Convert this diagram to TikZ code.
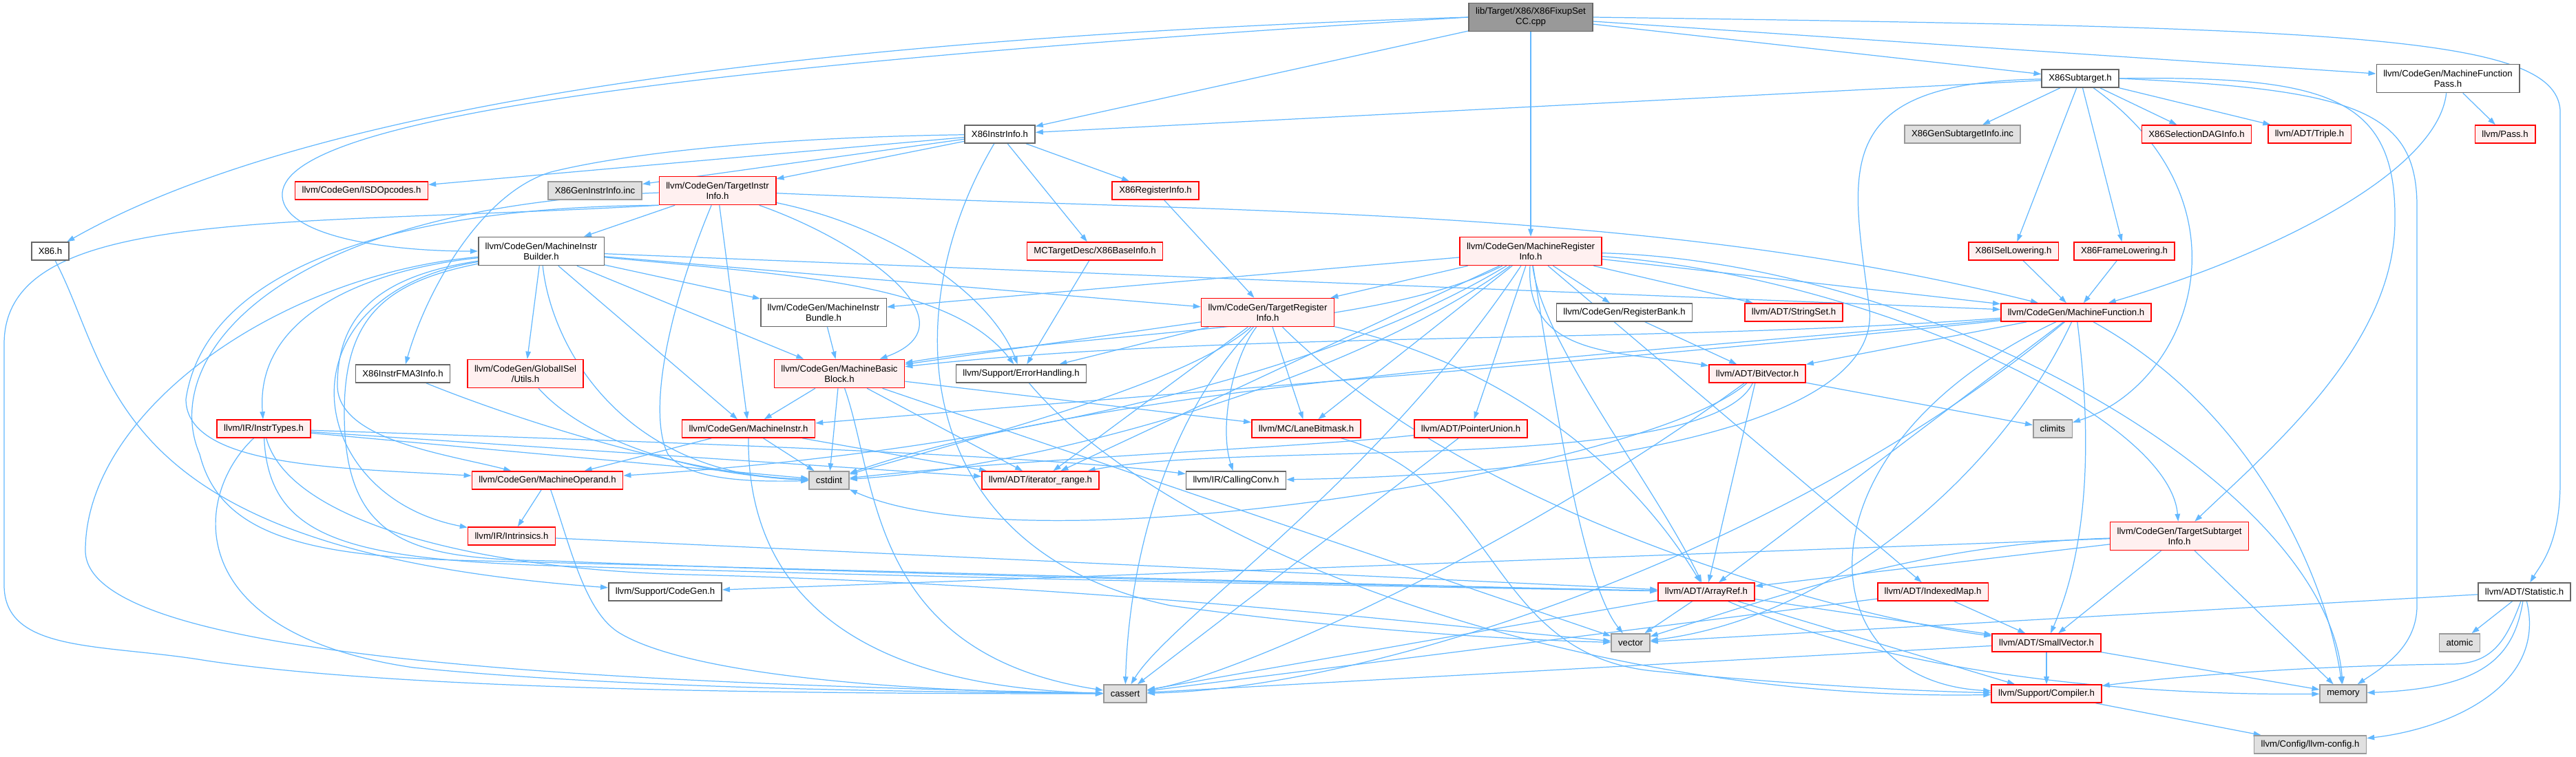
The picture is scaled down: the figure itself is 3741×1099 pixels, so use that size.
\documentclass[tikz,border=0pt]{standalone}
\usepackage{fontspec}
\setmainfont{Liberation Sans}
\usetikzlibrary{arrows.meta,backgrounds}
\definecolor{edgeblue}{HTML}{63B8FF}
\definecolor{redfill}{HTML}{FFF0F0}
\definecolor{sysfill}{HTML}{E0E0E0}
\definecolor{sysline}{HTML}{999999}
\definecolor{plainline}{HTML}{666666}
\definecolor{rootfill}{HTML}{999999}

\begin{document}
\begin{tikzpicture}[
    x=0.02cm, y=-0.02cm,
    >={Triangle[length=0.22cm,width=0.15cm]},
    every node/.style={rectangle, font=\fontsize{7.5}{8.5}\selectfont, inner xsep=0.2cm, inner ysep=0.05cm, minimum height=0.52cm, align=center},
    plainbox/.style={draw=plainline, fill=white, line width=0.9pt},
    redbox/.style={draw=red, fill=redfill, line width=0.9pt},
    sysbox/.style={draw=sysline, fill=sysfill, line width=0.9pt},
    rootbox/.style={draw=plainline, fill=rootfill, line width=0.9pt},
    two/.style={minimum height=0.82cm},
    dep/.style={->, draw=edgeblue, line width=0.7pt}
]
  \useasboundingbox (0,0) rectangle (3741,1099);

  % nodes (placed to match the screenshot)
  \node[rootbox, two] (root) at (2223,25) {lib/Target/X86/X86FixupSet\\CC.cpp};
  \node[plainbox] (sub) at (3021,114) {X86Subtarget.h};
  \node[plainbox, two] (mfp) at (3555,114) {llvm/CodeGen/MachineFunction\\Pass.h};
  \node[plainbox] (instr) at (1452,195) {X86InstrInfo.h};
  \node[sysbox] (gensub) at (2850,195) {X86GenSubtargetInfo.inc};
  \node[redbox] (dag) at (3190,195) {X86SelectionDAGInfo.h};
  \node[redbox] (triple) at (3354,195) {llvm/ADT/Triple.h};
  \node[redbox] (pass) at (3638,195) {llvm/Pass.h};
  \node[redbox] (isd) at (525,277) {llvm/CodeGen/ISDOpcodes.h};
  \node[sysbox] (geninstr) at (864,277) {X86GenInstrInfo.inc};
  \node[redbox, two] (tii) at (1042,277) {llvm/CodeGen/TargetInstr\\Info.h};
  \node[redbox] (x86reg) at (1678,277) {X86RegisterInfo.h};
  \node[plainbox] (x86) at (73,365) {X86.h};
  \node[plainbox, two] (mib) at (786,365) {llvm/CodeGen/MachineInstr\\Builder.h};
  \node[redbox] (base) at (1590,365) {MCTargetDesc/X86BaseInfo.h};
  \node[redbox, two] (mri) at (2223,365) {llvm/CodeGen/MachineRegister\\Info.h};
  \node[redbox] (isel) at (2924,365) {X86ISelLowering.h};
  \node[redbox] (frame) at (3085,365) {X86FrameLowering.h};
  \node[plainbox, two] (bundle) at (1196,454) {llvm/CodeGen/MachineInstr\\Bundle.h};
  \node[redbox, two] (tri) at (1841,454) {llvm/CodeGen/TargetRegister\\Info.h};
  \node[plainbox] (regbank) at (2359,454) {llvm/CodeGen/RegisterBank.h};
  \node[redbox] (strset) at (2605,454) {llvm/ADT/StringSet.h};
  \node[redbox] (mf) at (3015,454) {llvm/CodeGen/MachineFunction.h};
  \node[plainbox] (fma) at (585,543) {X86InstrFMA3Info.h};
  \node[redbox, two] (gisel) at (763,543) {llvm/CodeGen/GlobalISel\\/Utils.h};
  \node[redbox, two] (mbb) at (1219,543) {llvm/CodeGen/MachineBasic\\Block.h};
  \node[plainbox] (err) at (1483,543) {llvm/Support/ErrorHandling.h};
  \node[redbox] (bitvec) at (2552,543) {llvm/ADT/BitVector.h};
  \node[redbox] (instrtypes) at (383,623) {llvm/IR/InstrTypes.h};
  \node[redbox] (mi) at (1087,623) {llvm/CodeGen/MachineInstr.h};
  \node[redbox] (lane) at (1897,623) {llvm/MC/LaneBitmask.h};
  \node[redbox] (ptrunion) at (2136,623) {llvm/ADT/PointerUnion.h};
  \node[sysbox] (climits) at (2981,623) {climits};
  \node[redbox] (mo) at (795,698) {llvm/CodeGen/MachineOperand.h};
  \node[sysbox] (cstdint) at (1204,698) {cstdint};
  \node[redbox] (iterrange) at (1511,698) {llvm/ADT/iterator\_range.h};
  \node[plainbox] (cc) at (1795,698) {llvm/IR/CallingConv.h};
  \node[redbox] (intrinsics) at (743,779) {llvm/IR/Intrinsics.h};
  \node[redbox, two] (tsi) at (3165,779) {llvm/CodeGen/TargetSubtarget\\Info.h};
  \node[plainbox] (cgen) at (966,860) {llvm/Support/CodeGen.h};
  \node[redbox] (arrayref) at (2478,860) {llvm/ADT/ArrayRef.h};
  \node[redbox] (indexed) at (2807,860) {llvm/ADT/IndexedMap.h};
  \node[plainbox] (stat) at (3666,860) {llvm/ADT/Statistic.h};
  \node[sysbox] (vector) at (2368,934) {vector};
  \node[redbox] (smallvec) at (2972,934) {llvm/ADT/SmallVector.h};
  \node[sysbox] (atomic) at (3572,934) {atomic};
  \node[sysbox] (cassert) at (1634,1008) {cassert};
  \node[redbox] (compiler) at (2972,1008) {llvm/Support/Compiler.h};
  \node[sysbox] (memory) at (3403,1008) {memory};
  \node[sysbox] (config) at (3355,1082) {llvm/Config/llvm-config.h};

  % edges
  \begin{scope}[on background layer]
  \draw[dep] (root.west) .. controls (1000,60) and (400,180) .. (x86);
  \draw[dep] (root) -- (instr);
  \draw[dep] (root) -- (sub);
  \draw[dep] (root) -- (mfp);
  \draw[dep] (root.west) .. controls (900,100) and (420,180) .. (410,280) .. controls (405,340) and (550,365) .. (mib.west);
  \draw[dep] (root) -- (mri);
  \draw[dep] (root.east) .. controls (3400,40) and (3710,50) .. (3718,160) -- (3718,700) .. controls (3718,790) and (3690,820) .. (stat);

  \draw[dep] (sub) -- (instr);
  \draw[dep] (sub) -- (gensub);
  \draw[dep] (sub) -- (isel);
  \draw[dep] (sub) -- (frame);
  \draw[dep] (sub) -- (dag);
  \draw[dep] (sub) -- (triple);
  \draw[dep] (sub) .. controls (3280,300) and (3180,560) .. (climits);
  \draw[dep] (sub.east) .. controls (3380,110) and (3480,140) .. (3478,320) .. controls (3478,500) and (3300,650) .. (tsi);
  \draw[dep] (sub.east) .. controls (3420,130) and (3510,160) .. (3510,300) -- (3510,880) .. controls (3510,940) and (3460,970) .. (memory);
  \draw[dep] (sub) .. controls (2650,120) and (2690,250) .. (2715,450) .. controls (2730,620) and (2300,690) .. (cc);

  \draw[dep] (mfp) -- (pass);
  \draw[dep] (mfp) .. controls (3540,250) and (3300,370) .. (mf);

  \draw[dep] (instr) -- (isd);
  \draw[dep] (instr) -- (geninstr);
  \draw[dep] (instr) -- (tii);
  \draw[dep] (instr) .. controls (1100,200) and (900,225) .. (800,250) .. controls (700,280) and (620,420) .. (fma);
  \draw[dep] (instr) -- (base);
  \draw[dep] (instr) -- (x86reg);
  \draw[dep] (instr) .. controls (1300,450) and (1320,800) .. (1700,880) .. controls (1950,915) and (2200,930) .. (vector);

  \draw[dep] (tii) -- (mib);
  \draw[dep] (tii) .. controls (1250,350) and (1420,470) .. (mbb);
  \draw[dep] (tii) .. controls (1800,310) and (2400,300) .. (mf);
  \draw[dep] (tii) -- (mi);
  \draw[dep] (tii.south west) .. controls (600,300) and (300,380) .. (270,580) .. controls (270,680) and (500,680) .. (mo);
  \draw[dep] (tii) .. controls (1300,330) and (1440,430) .. (err);
  \draw[dep] (tii.south west) .. controls (400,330) and (6,300) .. (6,500) -- (6,850) .. controls (6,950) and (150,935) .. (300,960) .. controls (600,1005) and (1200,1008) .. (cassert);
  \draw[dep] (tii) .. controls (970,450) and (940,600) .. (970,660) .. controls (1000,700) and (1100,700) .. (cstdint);
  \draw[dep] (tii) .. controls (400,300) and (230,520) .. (290,660) .. controls (320,780) and (450,810) .. (700,815) .. controls (1300,830) and (2000,850) .. (arrayref);

  \draw[dep] (mib) -- (gisel);
  \draw[dep] (mib) -- (bundle);
  \draw[dep] (mib) -- (tri);
  \draw[dep] (mib) -- (mf);
  \draw[dep] (mib) -- (mbb);
  \draw[dep] (mib) -- (mi);
  \draw[dep] (mib) .. controls (560,400) and (490,450) .. (490,560) .. controls (490,640) and (650,660) .. (mo);
  \draw[dep] (mib) .. controls (550,390) and (370,450) .. (instrtypes);
  \draw[dep] (mib) .. controls (400,430) and (440,720) .. (intrinsics);
  \draw[dep] (mib) .. controls (1150,400) and (1380,410) .. (err);
  \draw[dep] (mib) .. controls (400,400) and (124,600) .. (124,800) .. controls (124,940) and (700,990) .. (cassert);
  \draw[dep] (mib) .. controls (800,500) and (900,690) .. (cstdint);
  \draw[dep] (mib) .. controls (560,410) and (500,460) .. (500,600) .. controls (500,790) and (600,812) .. (800,815) .. controls (1300,835) and (2000,850) .. (arrayref);

  \draw[dep] (mri) -- (bundle);
  \draw[dep] (mri) -- (tri);
  \draw[dep] (mri) .. controls (2000,480) and (1600,480) .. (mbb);
  \draw[dep] (mri) .. controls (1900,560) and (1400,660) .. (mo);
  \draw[dep] (mri) -- (regbank);
  \draw[dep] (mri) -- (strset);
  \draw[dep] (mri) -- (mf);
  \draw[dep] (mri) .. controls (2215,520) and (2350,510) .. (bitvec);
  \draw[dep] (mri) -- (iterrange);
  \draw[dep] (mri) -- (lane);
  \draw[dep] (mri) -- (ptrunion);
  \draw[dep] (mri) -- (indexed);
  \draw[dep] (mri) .. controls (2240,500) and (2400,700) .. (arrayref);
  \draw[dep] (mri) .. controls (2700,400) and (3150,600) .. (tsi);
  \draw[dep] (mri) .. controls (2800,380) and (3380,700) .. (memory);
  \draw[dep] (mri) .. controls (2260,600) and (2300,850) .. (vector);
  \draw[dep] (mri) .. controls (1950,560) and (1500,680) .. (cstdint);
  \draw[dep] (mri) .. controls (2000,700) and (1700,900) .. (cassert);

  \draw[dep] (regbank) -- (bitvec);
  \draw[dep] (x86reg) -- (tri);
  \draw[dep] (base) -- (err);
  \draw[dep] (bundle) -- (mbb);
  \draw[dep] (isel) -- (mf);
  \draw[dep] (frame) -- (mf);
  \draw[dep] (x86) .. controls (170,550) and (150,800) .. (cgen);
  \draw[dep] (fma) .. controls (750,610) and (1000,690) .. (cstdint);
  \draw[dep] (gisel) .. controls (850,640) and (1000,690) .. (cstdint);

  \draw[dep] (mbb) -- (mi);
  \draw[dep] (mbb) -- (cstdint);
  \draw[dep] (mbb) .. controls (1275,700) and (1260,950) .. (cassert);
  \draw[dep] (mbb) -- (vector);
  \draw[dep] (mbb) -- (lane);
  \draw[dep] (mbb) -- (iterrange);

  \draw[dep] (mi) -- (mo);
  \draw[dep] (mi) -- (cstdint);
  \draw[dep] (mi) .. controls (1085,900) and (1300,1000) .. (cassert);
  \draw[dep] (mi) -- (iterrange);

  \draw[dep] (mo) -- (intrinsics);
  \draw[dep] (mo) .. controls (830,800) and (850,890) .. (900,920) .. controls (1000,980) and (1300,1005) .. (cassert);
  \draw[dep] (intrinsics) -- (arrayref);

  \draw[dep] (instrtypes) -- (iterrange);
  \draw[dep] (instrtypes) .. controls (900,640) and (1500,660) .. (cc);
  \draw[dep] (instrtypes) -- (cstdint);
  \draw[dep] (instrtypes) .. controls (280,720) and (260,920) .. (600,970) .. controls (900,1000) and (1300,1005) .. (cassert);
  \draw[dep] (instrtypes) .. controls (390,780) and (500,812) .. (800,822) .. controls (1300,838) and (2000,852) .. (arrayref);
  \draw[dep] (instrtypes) .. controls (420,760) and (700,828) .. (1000,835) .. controls (1600,850) and (2100,910) .. (vector);

  \draw[dep] (tri) -- (mbb);
  \draw[dep] (tri) -- (err);
  \draw[dep] (tri) .. controls (1720,560) and (1400,640) .. (cstdint);
  \draw[dep] (tri) -- (iterrange);
  \draw[dep] (tri) .. controls (1790,520) and (1770,620) .. (cc);
  \draw[dep] (tri) -- (lane);
  \draw[dep] (tri) .. controls (2150,520) and (2350,650) .. (arrayref);
  \draw[dep] (tri) .. controls (2150,760) and (2700,900) .. (smallvec);
  \draw[dep] (tri) .. controls (1700,600) and (1640,800) .. (cassert);

  \draw[dep] (mf) .. controls (2400,500) and (1800,480) .. (mbb);
  \draw[dep] (mf) .. controls (2400,520) and (1600,580) .. (mi);
  \draw[dep] (mf) -- (bitvec);
  \draw[dep] (mf) -- (arrayref);
  \draw[dep] (mf) .. controls (3040,650) and (3030,800) .. (smallvec);
  \draw[dep] (mf) .. controls (2600,650) and (2620,990) .. (compiler);
  \draw[dep] (mf) .. controls (3280,600) and (3380,850) .. (memory);
  \draw[dep] (mf) .. controls (2900,700) and (2650,900) .. (vector);
  \draw[dep] (mf) .. controls (2300,520) and (1600,560) .. (cstdint);
  \draw[dep] (mf) .. controls (2600,800) and (2000,1000) .. (cassert);

  \draw[dep] (bitvec) -- (arrayref);
  \draw[dep] (bitvec) -- (climits);
  \draw[dep] (bitvec) .. controls (2480,690) and (1800,640) .. (iterrange);
  \draw[dep] (bitvec) .. controls (2200,800) and (1800,980) .. (cassert);
  \draw[dep] (bitvec) .. controls (2400,680) and (1500,830) .. (cstdint);

  \draw[dep] (ptrunion) .. controls (1900,650) and (1500,665) .. (cstdint);
  \draw[dep] (ptrunion) -- (cassert);
  \draw[dep] (lane) .. controls (2180,700) and (2160,950) .. (2400,975) .. controls (2600,995) and (2800,1005) .. (compiler);
  \draw[dep] (err) .. controls (1700,800) and (2300,1020) .. (compiler);

  \draw[dep] (tsi) -- (smallvec);
  \draw[dep] (tsi) -- (memory);
  \draw[dep] (tsi) -- (arrayref);
  \draw[dep] (tsi) .. controls (2800,790) and (2600,860) .. (vector);
  \draw[dep] (tsi) -- (cgen);

  \draw[dep] (arrayref) -- (vector);
  \draw[dep] (arrayref) -- (smallvec);
  \draw[dep] (arrayref) -- (compiler);
  \draw[dep] (arrayref) .. controls (2800,1000) and (3200,1010) .. (memory);
  \draw[dep] (arrayref) -- (cassert);
  \draw[dep] (indexed) -- (smallvec);
  \draw[dep] (indexed) -- (cassert);
  \draw[dep] (smallvec) -- (compiler);
  \draw[dep] (smallvec) -- (memory);
  \draw[dep] (smallvec) -- (cassert);
  \draw[dep] (compiler) -- (config);

  \draw[dep] (stat) -- (atomic);
  \draw[dep] (stat) .. controls (3650,960) and (3600,1000) .. (memory);
  \draw[dep] (stat) .. controls (3640,930) and (3620,965) .. (3560,965) .. controls (3300,968) and (3100,990) .. (compiler);
  \draw[dep] (stat) .. controls (3700,1000) and (3550,1060) .. (config);
  \draw[dep] (stat) -- (vector);
  \end{scope}
\end{tikzpicture}
\end{document}
